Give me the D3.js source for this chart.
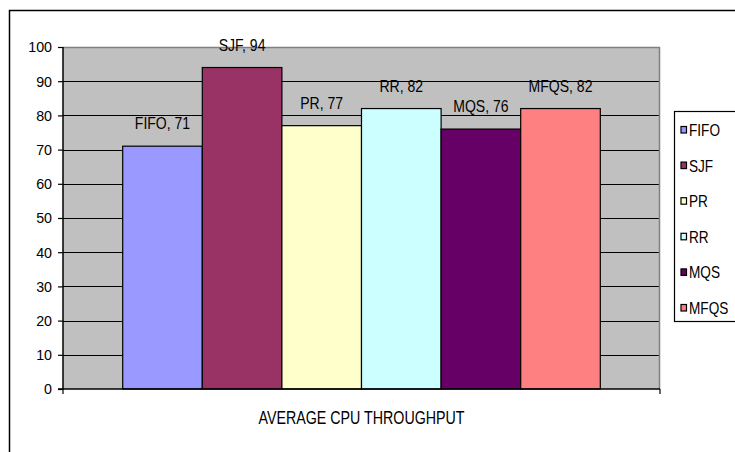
<!DOCTYPE html>
<html>
<head>
<meta charset="utf-8">
<script src="https://cdn.jsdelivr.net/npm/d3@7/dist/d3.min.js"></script>
<style>
  html, body { margin: 0; padding: 0; background: #fff; }
  svg { display: block; font-family: "Liberation Sans", Arial, sans-serif; }
</style>
</head>
<body>
<svg id="chart" width="735" height="452"></svg>
<script>
// Scheduling algorithms and their average CPU throughput
const categories = ["AVERAGE CPU THROUGHPUT"];
const seriesNames = ["FIFO", "SJF", "PR", "RR", "MQS", "MFQS"];
const seriesValues = [71, 94, 77, 82, 76, 82];
const seriesColors = ["#9999FF", "#993366", "#FFFFCC", "#CCFFFF", "#660066", "#FF8080"];
const yTicks = [0, 10, 20, 30, 40, 50, 60, 70, 80, 90, 100];

const svg = d3.select("#chart");

// Squeeze a text node horizontally to a fraction of its natural width
function condense(sel, k) {
  sel.each(function () {
    const w = this.getComputedTextLength();
    d3.select(this).attr("textLength", w * k).attr("lengthAdjust", "spacingAndGlyphs");
  });
}

// Outer chart frame
svg.append("rect")
  .attr("x", 9.5).attr("y", 10.5)
  .attr("width", 800).attr("height", 500)
  .attr("fill", "#fff").attr("stroke", "#000").attr("stroke-width", 1.5);

const plot = { left: 63, right: 660, top: 47, bottom: 389 };

const y = d3.scaleLinear().domain([0, 100]).range([plot.bottom, plot.top]);
const x0 = d3.scaleBand().domain(categories)
  .range([plot.left, plot.right]).paddingInner(0).paddingOuter(0.125);
const x1 = d3.scaleBand().domain(seriesNames)
  .range([0, x0.bandwidth()]).padding(0);

// Plot area background
svg.append("rect")
  .attr("x", plot.left).attr("y", plot.top)
  .attr("width", plot.right - plot.left).attr("height", plot.bottom - plot.top)
  .attr("fill", "#C0C0C0");

// Horizontal gridlines
svg.append("g")
  .selectAll("line")
  .data(yTicks.filter(t => t > 0 && t < 100))
  .join("line")
  .attr("x1", plot.left).attr("x2", plot.right)
  .attr("y1", d => Math.round(y(d)) + 0.5).attr("y2", d => Math.round(y(d)) + 0.5)
  .attr("stroke", "#000").attr("stroke-width", 1.2);

// Plot area border (top and right)
svg.append("path")
  .attr("d", `M${plot.left},${plot.top + 0.5}H${plot.right - 0.5}V${plot.bottom}`)
  .attr("fill", "none").attr("stroke", "#808080").attr("stroke-width", 1.5);

// Bars
const group = svg.append("g")
  .selectAll("g")
  .data(categories)
  .join("g")
  .attr("transform", d => `translate(${x0(d)},0)`);

group.selectAll("rect")
  .data(seriesNames.map((n, i) => ({ name: n, value: seriesValues[i], color: seriesColors[i] })))
  .join("rect")
  .attr("x", d => x1(d.name))
  .attr("y", d => y(d.value))
  .attr("width", x1.bandwidth())
  .attr("height", d => y(0) - y(d.value))
  .attr("fill", d => d.color)
  .attr("stroke", "#000").attr("stroke-width", 1.2);

// Value labels above bars
group.selectAll("text.value")
  .data(seriesNames.map((n, i) => ({ name: n, value: seriesValues[i] })))
  .join("text")
  .attr("class", "value")
  .attr("x", d => x1(d.name) + x1.bandwidth() / 2)
  .attr("y", d => y(d.value) - 17)
  .attr("text-anchor", "middle")
  .attr("font-size", 16.5)
  .attr("fill", "#000")
  .text(d => `${d.name}, ${d.value}`)
  .call(condense, 0.85);

// Y axis
const yAxis = svg.append("g")
  .attr("transform", `translate(${plot.left},0)`)
  .call(d3.axisLeft(y).tickValues(yTicks).tickSize(5).tickPadding(6));
yAxis.select(".domain").attr("stroke", "#000").attr("stroke-width", 1.5).attr("d", `M0,${plot.top}V${plot.bottom}`);
yAxis.selectAll(".tick line").attr("stroke", "#000").attr("stroke-width", 1.2);
yAxis.selectAll(".tick text")
  .attr("font-size", 15.5).attr("font-family", "Liberation Sans, Arial, sans-serif").attr("fill", "#000")
  .call(condense, 0.92);

// X axis: baseline, boundary ticks and category label
const xAxis = svg.append("g").attr("transform", `translate(0,${plot.bottom})`);
xAxis.append("line")
  .attr("x1", plot.left - 5).attr("x2", plot.right)
  .attr("y1", 0).attr("y2", 0)
  .attr("stroke", "#000").attr("stroke-width", 1.5);
xAxis.selectAll("line.tick")
  .data(x0.range())
  .join("line")
  .attr("class", "tick")
  .attr("x1", d => d).attr("x2", d => d)
  .attr("y1", 0).attr("y2", 5)
  .attr("stroke", "#000").attr("stroke-width", 1.2);
xAxis.selectAll("text")
  .data(categories)
  .join("text")
  .attr("x", d => x0(d) + x0.bandwidth() / 2)
  .attr("y", 35)
  .attr("text-anchor", "middle")
  .attr("font-size", 18.5)
  .attr("fill", "#000")
  .text(d => d)
  .call(condense, 0.77);

// Legend
const legend = svg.append("g").attr("transform", "translate(674.5,111.5)");
legend.append("rect")
  .attr("x", 0).attr("y", 0)
  .attr("width", 90).attr("height", 210)
  .attr("fill", "#fff").attr("stroke", "#000").attr("stroke-width", 1.2);

const ly = d3.scalePoint().domain(seriesNames).range([18.5, 196.5]);
const items = legend.selectAll("g.item")
  .data(seriesNames.map((n, i) => ({ name: n, color: seriesColors[i] })))
  .join("g")
  .attr("class", "item")
  .attr("transform", d => `translate(0,${ly(d.name)})`);
items.append("rect")
  .attr("x", 6.5).attr("y", -3.5)
  .attr("width", 5.5).attr("height", 6.5)
  .attr("fill", d => d.color)
  .attr("stroke", "#000").attr("stroke-width", 1.2);
items.append("text")
  .attr("x", 14.5).attr("y", 6)
  .attr("font-size", 17)
  .attr("fill", "#000")
  .text(d => d.name)
  .call(condense, 0.8);
</script>
</body>
</html>
